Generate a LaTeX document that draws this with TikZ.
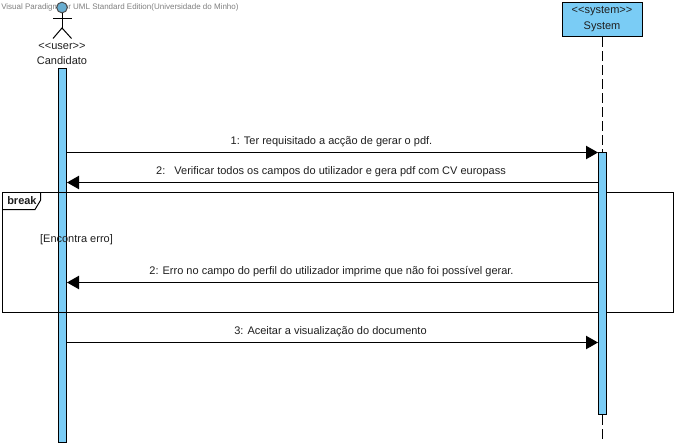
\documentclass[tikz,border=0pt]{standalone}
\usepackage{fontspec}
\setmainfont{Liberation Sans}
\usetikzlibrary{arrows.meta}
\definecolor{actblue}{HTML}{7ACCF5}
\tikzset{
  lbl/.style={inner sep=0pt,font=\fontsize{8.25pt}{10pt}\selectfont,text=black!88},
  wm/.style={inner sep=0pt,font=\fontsize{6pt}{8pt}\selectfont,text=black!50},
  actbar/.style={draw=black,fill=actblue,line width=.75pt,minimum width=6pt,inner sep=0pt,anchor=north},
  life/.style={draw=black,line width=.75pt,dash pattern=on 7.5pt off 3pt},
  msgline/.style={draw=black,line width=.75pt},
  msg/.style={msgline,-{Triangle[length=9pt,width=10pt]}},
  limb/.style={draw=black,line width=.75pt}
}
\begin{document}
\begin{tikzpicture}[x=.75pt,y=-.75pt]
\useasboundingbox[fill=white] (0,0) rectangle (677,446);
% watermark
\node[wm,anchor=west] (wmark) at (1,7.5) {Visual Paradigm for UML Standard Edition(Universidade do Minho)};
% actor
\node[circle,draw=black!70,fill=actblue!85!black,line width=.75pt,minimum size=8pt,inner sep=0pt] (head) at (62,7.5) {};
\coordinate (hip) at (62,28);
\coordinate (armL) at (53,18);
\coordinate (armR) at (72,18);
\coordinate (legL) at (53,38.5);
\coordinate (legR) at (71.5,38.5);
\draw[limb] (head.south) -- (hip);
\draw[limb] (armL) -- (armR);
\draw[limb] (legL) -- (hip) -- (legR);
\node[lbl] (stereo) at (62,46) {<{}<user>{}>};
\node[lbl] (cand) at (62,60.5) {Candidato};
% system box
\node[draw=black,fill=actblue,line width=.75pt,minimum width=60pt,minimum height=26pt,inner sep=0pt] (sys) at (602.5,19.5) {};
\node[lbl] (sysst) at (602,11.5) {<{}<system>{}>};
\node[lbl] (sysname) at (602,26.5) {System};
% lifeline
\coordinate (lifeend) at (602.5,441);
\draw[life] (sys.south) -- (lifeend);
% left activation (below the frame)
\node[actbar,minimum height=280.5pt] (actA) at (62.5,67.5) {};
% frame
\draw[msgline] (2.5,192) rectangle (673.5,312);
\draw[msgline] (2.5,209.5) -- (35,209.5) -- (40.7,200) -- (40.7,192);
\node[lbl,anchor=west,font=\fontsize{8.25pt}{10pt}\selectfont\bfseries] (brk) at (7,200.5) {break};
\node[lbl] (guard) at (76.5,240) {[Encontra erro]};
% right activation (over the frame)
\node[actbar,minimum height=196.5pt] (actB) at (602.5,152) {};
% messages
\coordinate (m1) at (0,152.5);
\coordinate (m2) at (0,182.5);
\coordinate (m3) at (0,282.5);
\coordinate (m4) at (0,342.5);
\draw[msg] (actA.east |- m1) -- (actB.west |- m1);
\draw[msg] (actB.west |- m2) -- (actA.east |- m2);
\draw[msg] (actB.west |- m3) -- (actA.east |- m3);
\draw[msg] (actA.east |- m4) -- (actB.west |- m4);
\node[lbl] (l1) at (331.5,142) {1: Ter requisitado a acção de gerar o pdf.};
\node[lbl] (l2) at (331,172) {2:\ \ \ Verificar todos os campos do utilizador e gera pdf com CV europass};
\node[lbl] (l3) at (331.5,272) {2: Erro no campo do perfil do utilizador imprime que não foi possível gerar.};
\node[lbl] (l4) at (330.5,332) {3: Aceitar a visualização do documento};
\end{tikzpicture}
\end{document}
